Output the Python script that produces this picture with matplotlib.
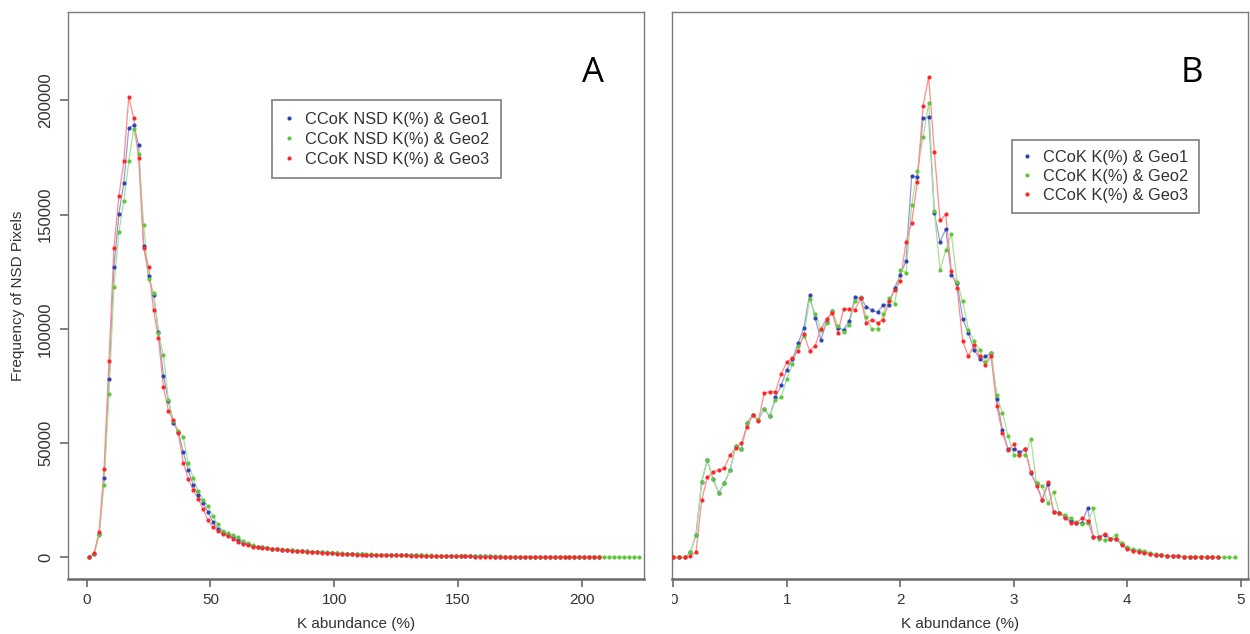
import matplotlib
matplotlib.use("Agg")
import matplotlib.pyplot as plt
from matplotlib.patches import Rectangle

plt.rcParams['font.family'] = ['Liberation Sans', 'DejaVu Sans']

# ---- panel A : K abundance (%) , step 2 ----
a_x_rb = list(range(1, 209, 2))      # Geo1 / Geo3
a_x_g = list(range(1, 225, 2))       # Geo2 runs a bit further

a_geo1 = [0, 1700, 10500, 35000, 78000, 126900, 150300, 163900, 188000, 189200,
          180300, 136400, 123200, 115000, 98800, 79500, 68400, 58900, 55000, 46200,
          38200, 31900, 27200, 23800, 19900, 15500, 12600, 10900, 9700, 8800,
          7600, 6400, 5800, 5000, 4600, 4400, 4000, 3800, 3600, 3400,
          3200, 3100, 2900, 2800, 2700, 2500, 2400, 2200, 2100, 2000,
          1800, 1700, 1600, 1500, 1400, 1400, 1300, 1300, 1200, 1200,
          1100, 1100, 1000, 1000, 1000, 900, 900, 900, 800, 800,
          800, 700, 700, 700, 600, 600, 600, 600, 500, 500,
          500, 500, 400, 400, 400, 400, 300, 300, 300, 300,
          200, 200, 200, 200, 200, 200, 100, 100, 100, 100,
          100, 100, 100, 100]
a_geo2 = [0, 1600, 9800, 31900, 71400, 118500, 142500, 156000, 173400, 187600,
          176700, 145600, 121800, 115700, 98100, 88600, 68900, 59600, 55400, 52800,
          41400, 35000, 29100, 25300, 22400, 18000, 14500, 11500, 10700, 9800,
          8800, 7300, 6400, 5400, 4800, 4500, 4200, 3900, 3700, 3500,
          3300, 3200, 3000, 2900, 2800, 2600, 2500, 2300, 2200, 2100,
          1900, 1800, 1700, 1600, 1500, 1500, 1400, 1400, 1300, 1300,
          1200, 1200, 1100, 1100, 1000, 1000, 1000, 900, 900, 900,
          800, 800, 800, 700, 700, 700, 600, 600, 600, 600,
          500, 500, 500, 500, 400, 400, 400, 400, 300, 300,
          300, 300, 300, 200, 200, 200, 200, 200, 200, 100,
          100, 100, 100, 100, 100, 100, 100, 100, 100, 100,
          100, 100]
a_geo3 = [0, 1800, 11100, 38600, 86000, 135500, 158000, 173500, 201600, 192200,
          174700, 135400, 127300, 108300, 95900, 74400, 64200, 60100, 54500, 41500,
          34500, 29700, 25700, 21400, 16200, 13300, 11800, 10400, 9500, 8300,
          6900, 5800, 5400, 4700, 4400, 4200, 4000, 3700, 3500, 3300,
          3100, 3000, 2800, 2700, 2600, 2400, 2300, 2100, 2000, 1900,
          1700, 1600, 1500, 1400, 1300, 1300, 1200, 1200, 1100, 1100,
          1000, 1000, 900, 900, 900, 800, 800, 800, 700, 700,
          700, 600, 600, 600, 500, 500, 500, 500, 400, 400,
          400, 400, 400, 300, 300, 300, 300, 300, 200, 200,
          200, 200, 200, 200, 100, 100, 100, 100, 100, 100,
          100, 100, 100, 100]

# ---- panel B : K abundance (%) , step 0.05 ----
b_x_rb = [round(i * 0.05, 2) for i in range(97)]
b_x_g = [round(i * 0.05, 2) for i in range(100)]

b_geo1 = [0, 0, 0, 2200, 9800, 33200, 42700, 34200, 28300, 32500,
          38300, 48800, 47400, 59000, 62400, 60200, 65000, 61700, 70200, 75300,
          82200, 86800, 93800, 100400, 114900, 104700, 95300, 103100, 107700, 100400,
          99700, 103600, 113900, 113700, 109700, 108200, 107300, 110700, 110700, 118000,
          123800, 129700, 166900, 166700, 192100, 192800, 150600, 138000, 143900, 123600,
          120200, 104500, 98200, 90900, 86800, 88000, 89500, 69400, 55800, 47400,
          47400, 46300, 47400, 36800, 32400, 25100, 32000, 20000, 19600, 17800,
          16100, 14900, 15200, 21500, 9000, 8800, 9800, 8300, 7900, 6000,
          4000, 3200, 2700, 2400, 1700, 1200, 1000, 800, 600, 500,
          400, 300, 300, 200, 100, 100, 0]
b_geo2 = [0, 0, 0, 2200, 9800, 33200, 42700, 34200, 28300, 32500,
          38300, 48800, 47400, 59000, 62400, 60200, 65000, 61700, 69000, 70200,
          78200, 84800, 92400, 96800, 112900, 106700, 99700, 102600, 107700, 101200,
          98700, 101900, 112100, 114000, 105300, 100000, 100000, 106700, 113600, 111000,
          126000, 124600, 154100, 169100, 183800, 198800, 151600, 125700, 134500, 141400,
          120500, 112100, 99700, 94600, 90600, 85400, 89500, 71200, 63200, 53200,
          44900, 44900, 44900, 51700, 32700, 31300, 23900, 28500, 19600, 18600,
          17100, 15600, 14600, 14900, 21500, 8300, 7600, 8300, 9800, 6400,
          4400, 3500, 3200, 2900, 2000, 1400, 1000, 700, 600, 500,
          400, 300, 300, 200, 100, 100, 0, 0, 0, 0]
b_geo3 = [0, 0, 0, 500, 2500, 25100, 35100, 37500, 38300, 39000,
          44900, 47800, 50000, 57300, 62400, 59800, 71900, 72600, 72600, 80300,
          85400, 87300, 90500, 97800, 90500, 92700, 100000, 104500, 107000, 98300,
          108800, 108800, 108400, 113400, 102600, 104100, 102600, 104100, 112100, 117200,
          120900, 138000, 146500, 164300, 197400, 210400, 177500, 147500, 150100, 125300,
          118000, 94600, 88000, 93100, 88000, 84300, 88000, 66100, 54400, 47100,
          49700, 44900, 47400, 37500, 31300, 25100, 33200, 20000, 19600, 17500,
          15200, 15200, 17100, 16100, 9000, 9000, 10500, 8300, 8300, 5400,
          3500, 2900, 2300, 2000, 1400, 1000, 900, 700, 600, 500,
          400, 300, 300, 200, 100, 100, 0]

colors = ['#2f45b5', '#5cc83a', '#ff2626']
line_colors = ['#8f9be0', '#a8e291', '#ff8c8c']
labels_a = ['CCoK NSD K(%) & Geo1', 'CCoK NSD K(%) & Geo2', 'CCoK NSD K(%) & Geo3']
labels_b = ['CCoK K(%) & Geo1', 'CCoK K(%) & Geo2', 'CCoK K(%) & Geo3']

W, H = 1250, 634
fig = plt.figure(figsize=(W / 100, H / 100), dpi=100)
axA = fig.add_axes([68.3 / W, (H - 579.3) / H, (644 - 68.3) / W, (579.3 - 12) / H])
axB = fig.add_axes([672.3 / W, (H - 579.3) / H, (1248.3 - 672.3) / W, (579.3 - 12) / H])

def draw(ax, xs, ys, labels):
    handles = []
    for x, y, c, lc, lab in zip(xs, ys, colors, line_colors, labels):
        ax.plot(x, y, '-', color=lc, lw=0.9, zorder=2)
        h, = ax.plot(x, y, 'o', color=c, ms=3.0, mew=0, zorder=3, label=lab)
        handles.append(h)
    for s in ax.spines.values():
        s.set_color('#7a7a7a')
        s.set_linewidth(1.0)
    ax.spines['bottom'].set_linewidth(1.8)
    ax.spines['bottom'].set_color('#6a6a6a')
    ax.tick_params(direction='out', length=6, width=1.2, color='#6a6a6a',
                   labelsize=11, labelcolor='#333333')
    ax.tick_params(axis='x', pad=4)
    ax.set_ylim(-9540, 238700)
    ax.set_xlabel('K abundance (%)', fontsize=11, color='#333333')
    ax.xaxis.set_label_coords(0.5, -0.066)
    return handles

hA = draw(axA, [a_x_rb, a_x_g, a_x_rb], [a_geo1, a_geo2, a_geo3], labels_a)
axA.set_xlim(-7.43, 225.1)
axA.set_xticks([0, 50, 100, 150, 200])
axA.set_yticks([0, 50000, 100000, 150000, 200000])
axA.set_yticklabels(['0', '50000', '100000', '150000', '200000'], rotation=90,
                    va='center', fontsize=12)
axA.tick_params(axis='y', pad=5)
axA.set_ylabel('Frequency of NSD Pixels', fontsize=11, color='#333333')
axA.yaxis.set_label_coords(-0.076, 0.5)
fig.text(593 / W, 1 - 73 / H, 'A', fontsize=25, family='Open Sans', ha='center', va='center')

hB = draw(axB, [b_x_rb, b_x_g, b_x_rb], [b_geo1, b_geo2, b_geo3], labels_b)
axB.set_xlim(-0.009, 5.066)
axB.set_xticks([0, 1, 2, 3, 4, 5])
axB.set_yticks([])
fig.text(1191.7 / W, 1 - 73 / H, 'B', fontsize=25, family='Open Sans', ha='center', va='center')

leg_kw = dict(loc='upper left', frameon=True, fancybox=False, borderaxespad=0,
              handlelength=0.6, handletextpad=0.7, markerscale=1.0,
              labelcolor='#333333', bbox_transform=fig.transFigure)
legA = axA.legend(handles=hA, bbox_to_anchor=(272 / W, 1 - 100 / H), fontsize=11.8,
                  labelspacing=0.3, borderpad=0.72, **leg_kw)
legB = axB.legend(handles=hB, bbox_to_anchor=(1012 / W, 1 - 140 / H), fontsize=11.8,
                  labelspacing=0.24, borderpad=0.62, **leg_kw)
for leg in (legA, legB):
    fr = leg.get_frame()
    fr.set_edgecolor('#6a6a6a')
    fr.set_linewidth(1.3)

# the "0" under panel B is cut at the panel's left edge
fig.add_artist(Rectangle((650 / W, 1 - 612 / H), 22.3 / W, 26 / H,
                         transform=fig.transFigure, facecolor='white',
                         edgecolor='none', zorder=10))

fig.savefig('out.png', dpi=100)
